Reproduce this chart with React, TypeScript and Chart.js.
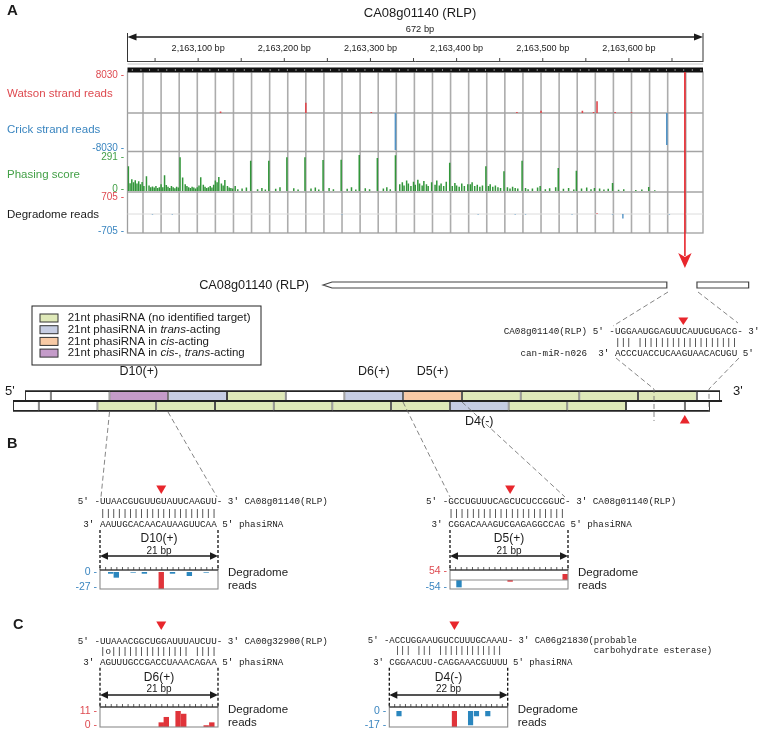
import { useEffect, useRef } from 'react';
import { Chart, registerables } from 'chart.js';

Chart.register(...registerables);

const W = 762;
const H = 733;
const SANS = "'Liberation Sans', Arial, Helvetica, sans-serif";
const MONO = "'Liberation Mono', 'Courier New', monospace";
Chart.defaults.font.family = SANS;

const INK = '#1b1b1b';
const TXT_RED = '#de4a50';
const TXT_BLUE = '#3b86c0';
const TXT_GREEN = '#43a047';
const WATSON_COLOR = '#e0474c';
const CRICK_COLOR = '#5293c6';
const PHASE_COLOR = '#32963a';
const CLEAVE_RED = '#e8262c';
const READ_RED = '#e0343a';
const READ_BLUE = '#2a86be';

/* ================= Panel A data ================= */
const regionTitle = 'CA08g01140 (RLP)';
const regionSizeLabel = '672 bp';
const regionStart = 2163018;
const regionLength = 668;
const rulerLabelTicks = [2163100, 2163200, 2163300, 2163400, 2163500, 2163600];
const rulerMinorTicks = [2163050, 2163100, 2163150, 2163200, 2163250, 2163300, 2163350, 2163400, 2163450, 2163500, 2163550, 2163600, 2163650];
const phaseLines = [18, 39, 60, 81, 102, 123, 144, 165, 186, 207, 228, 249, 270, 291, 312, 333, 354, 375, 396, 417, 438, 459, 480, 501, 522, 543, 564, 585, 606, 627, 648];
const cleavageBp = 647;

const strandReadMax = 8030;
const watsonSites = [108, 207, 283, 452, 480, 528, 541, 545, 566, 585];
const watsonReads = [320, 2180, 210, 210, 490, 490, 210, 2470, 210, 150];
const crickSites = [311, 626];
const crickReads = [-7820, -6760];

const phasingMax = 291;
const phasingScores: [number, number][] = [
  [1, 200], [3, 62], [5, 95], [7, 70], [9, 86], [11, 60], [13, 78], [15, 55], [17, 72], [19, 40],
  [22, 119], [25, 45], [27, 30], [29, 36], [31, 28], [33, 40], [35, 25], [37, 30], [39, 55], [41, 30],
  [43, 127], [45, 48], [47, 35], [49, 25], [51, 40], [53, 30], [55, 22], [57, 35], [59, 28], [61, 272],
  [64, 110], [67, 55], [69, 40], [71, 30], [73, 25], [75, 35], [77, 28], [79, 20], [81, 30], [83, 45],
  [85, 111], [88, 50], [90, 35], [92, 25], [94, 30], [96, 40], [98, 28], [100, 50], [102, 85], [104, 70],
  [106, 113], [109, 60], [111, 45], [113, 89], [116, 40], [118, 28], [120, 25], [122, 20], [125, 40], [128, 15],
  [133, 20], [138, 28], [143, 245], [151, 15], [156, 25], [160, 12], [164, 245], [172, 18], [177, 30], [185, 272],
  [193, 22], [198, 12], [206, 272], [213, 20], [218, 28], [222, 12], [227, 250], [234, 25], [239, 15], [248, 253],
  [255, 18], [260, 30], [265, 12], [269, 291], [276, 22], [281, 14], [290, 267], [297, 20], [301, 30], [305, 15],
  [311, 288], [316, 55], [319, 70], [321, 45], [324, 85], [326, 60], [329, 40], [332, 75], [334, 50], [337, 90],
  [339, 60], [342, 45], [344, 80], [347, 55], [349, 40], [353, 70], [357, 50], [359, 85], [362, 45], [364, 60],
  [367, 40], [370, 75], [374, 229], [377, 40], [380, 65], [382, 45], [385, 35], [388, 60], [391, 40], [395, 55],
  [398, 55], [400, 70], [403, 40], [406, 50], [409, 35], [412, 45], [416, 200], [419, 40], [421, 55], [424, 35],
  [427, 45], [430, 30], [433, 25], [437, 160], [441, 30], [444, 20], [447, 35], [450, 25], [453, 20], [458, 245],
  [462, 25], [465, 15], [470, 20], [476, 28], [479, 40], [485, 15], [490, 22], [497, 30], [500, 186], [506, 18],
  [512, 25], [518, 12], [521, 164], [527, 20], [533, 28], [538, 15], [542, 25], [548, 20], [553, 12], [558, 18],
  [563, 65], [570, 10], [576, 15], [590, 8], [597, 12], [605, 32], [612, 6],
];

const degradomeMax = 705;
const degradomeSites = [29, 52, 249, 407, 450, 462, 516, 545, 563, 575, 629];
const degradomeReads = [-18, -18, -18, -18, -18, -18, -18, 30, -18, -165, -18];

const geneName = 'CA08g01140 (RLP)';
const geneBody = [227, 626];
const geneDownstream = [661, 721];

/* ================= phasiRNA strand data ================= */
const typeColors: Record<string, string> = {
  untargeted: '#dfe9b9',
  trans: '#c6cde3',
  cis: '#f8caa5',
  cisTrans: '#c49bc9',
  none: '#ffffff',
};
const strandTopBoxes: [number, number][] = [
  [-9.2, 0], [0, 21], [21, 42], [42, 63], [63, 84], [84, 105], [105, 126],
  [126, 147], [147, 168], [168, 189], [189, 210], [210, 231], [231, 239.3],
];
const strandTopTypes = ['none', 'none', 'cisTrans', 'trans', 'untargeted', 'none', 'trans', 'cis', 'untargeted', 'untargeted', 'untargeted', 'untargeted', 'none'];
const strandBottomBoxes: [number, number][] = [
  [-13.5, -4.3], [-4.3, 16.7], [16.7, 37.7], [37.7, 58.7], [58.7, 79.7], [79.7, 100.7], [100.7, 121.7],
  [121.7, 142.7], [142.7, 163.7], [163.7, 184.7], [184.7, 205.7], [205.7, 226.7], [226.7, 235.7],
];
const strandBottomTypes = ['none', 'none', 'untargeted', 'untargeted', 'untargeted', 'untargeted', 'untargeted', 'untargeted', 'trans', 'untargeted', 'untargeted', 'none', 'none'];
const strandLabels = [
  { strand: 'top', box: 2, text: 'D10(+)' },
  { strand: 'top', box: 6, text: 'D6(+)' },
  { strand: 'top', box: 7, text: 'D5(+)' },
  { strand: 'bottom', box: 8, text: 'D4(-)' },
];
const strandCleavageNt = 226.7;

const legendRows: { type: string; parts: [string, boolean][] }[] = [
  { type: 'untargeted', parts: [['21nt phasiRNA (no identified target)', false]] },
  { type: 'trans', parts: [['21nt phasiRNA in ', false], ['trans', true], ['-acting', false]] },
  { type: 'cis', parts: [['21nt phasiRNA in ', false], ['cis', true], ['-acting', false]] },
  { type: 'cisTrans', parts: [['21nt phasiRNA in ', false], ['cis', true], ['-, ', false], ['trans', true], ['-acting', false]] },
];

const mirTarget = "CA08g01140(RLP) 5' -UGGAAUGGAGUUCAUUGUGACG- 3'";
const mirPairs = "                    ||| ||||||||||||||||||";
const mirGuide = "   can-miR-n026  3' ACCCUACCUCAAGUAACACUGU 5'";

/* ================= Panels B / C data ================= */
const d10Target = "5' -UUAACGUGUUGUAUUCAAGUU- 3' CA08g01140(RLP)";
const d10Pairs = "    |||||||||||||||||||||";
const d10Guide = " 3' AAUUGCACAACAUAAGUUCAA 5' phasiRNA";
const d10Sites = [1.9, 2.9, 5.9, 7.9, 10.9, 12.9, 15.9, 18.9];
const d10Reads = [-2.7, -9, -1, -2.7, -27, -2.7, -6.4, -1];
const d10Cleavage = 10.9;
const d10Range = [-27, 0];

const d5Target = "5' -GCCUGUUUCAGCUCUCCGGUC- 3' CA08g01140(RLP)";
const d5Pairs = "    |||||||||||||||||||||";
const d5Guide = " 3' CGGACAAAGUCGAGAGGCCAG 5' phasiRNA";
const d5Sites = [1.6, 10.7, 20.5];
const d5Reads = [-44, -10, 36];
const d5Cleavage = 10.7;
const d5Range = [-54, 54];

const d6Target = "5' -UUAAACGGCUGGAUUUAUCUU- 3' CA00g32900(RLP)";
const d6Pairs = "    |o|||||||||||||| ||||";
const d6Guide = " 3' AGUUUGCCGACCUAAACAGAA 5' phasiRNA";
const d6Sites = [10.9, 11.8, 13.9, 14.9, 18.9, 19.9];
const d6Reads = [3.2, 6.9, 11, 9.1, 1.2, 3.2];
const d6Cleavage = 10.9;
const d6Range = [0, 11];

const d4Target = "5' -ACCUGGAAUGUCCUUUGCAAAU- 3' CA06g21830(probable";
const d4Target2 = 'carbohydrate esterase)';
const d4Pairs = "     ||| ||| ||||||||||||";
const d4Guide = " 3' CGGAACUU-CAGGAAACGUUUU 5' phasiRNA";
const d4Sites = [1.8, 12.1, 15.1, 16.2, 18.3];
const d4Reads = [-5.6, -17, -15.2, -5.6, -5.6];
const d4Cleavage = 12.1;
const d4Range = [-17, 0];

/* ================= layout ================= */
const TRACK = { top: 72, bottom: 233, sep1: 151.5, sep2: 192 };
const WC_AREA: [number, number, number, number] = [127.5, 75, 703, 151];
const PH_AREA: [number, number, number, number] = [127.5, 155, 703, 191];
const DG_AREA: [number, number, number, number] = [127.5, 195, 703, 233];
const STRAND_AREA: [number, number, number, number] = [13, 391, 722, 411];

type Ctx = CanvasRenderingContext2D;

function text(ctx: Ctx, s: string, x: number, y: number, font: string, color: string, align: CanvasTextAlign = 'left') {
  ctx.save();
  ctx.font = font;
  ctx.fillStyle = color;
  ctx.textAlign = align;
  ctx.textBaseline = 'middle';
  ctx.fillText(s, x, y);
  ctx.restore();
}
function seg(ctx: Ctx, x1: number, y1: number, x2: number, y2: number, color: string, lw: number, dash?: number[]) {
  ctx.save();
  ctx.strokeStyle = color;
  ctx.lineWidth = lw;
  if (dash) ctx.setLineDash(dash);
  ctx.beginPath();
  ctx.moveTo(x1, y1);
  ctx.lineTo(x2, y2);
  ctx.stroke();
  ctx.restore();
}
function polyline(ctx: Ctx, pts: number[][], color: string, lw: number, dash?: number[]) {
  ctx.save();
  ctx.strokeStyle = color;
  ctx.lineWidth = lw;
  if (dash) ctx.setLineDash(dash);
  ctx.beginPath();
  pts.forEach((p, i) => (i ? ctx.lineTo(p[0], p[1]) : ctx.moveTo(p[0], p[1])));
  ctx.stroke();
  ctx.restore();
}
function fillPoly(ctx: Ctx, pts: number[][], fill: string, stroke?: string, lw = 1) {
  ctx.save();
  ctx.beginPath();
  pts.forEach((p, i) => (i ? ctx.lineTo(p[0], p[1]) : ctx.moveTo(p[0], p[1])));
  ctx.closePath();
  ctx.fillStyle = fill;
  ctx.fill();
  if (stroke) {
    ctx.strokeStyle = stroke;
    ctx.lineWidth = lw;
    ctx.stroke();
  }
  ctx.restore();
}
function dblArrow(ctx: Ctx, x1: number, x2: number, y: number, head: number, half: number, lw: number) {
  seg(ctx, x1 + head * 0.6, y, x2 - head * 0.6, y, INK, lw);
  fillPoly(ctx, [[x1, y], [x1 + head, y - half], [x1 + head, y + half]], INK);
  fillPoly(ctx, [[x2, y], [x2 - head, y - half], [x2 - head, y + half]], INK);
}
function triDown(ctx: Ctx, cx: number, tipY: number, w: number, h: number) {
  fillPoly(ctx, [[cx - w / 2, tipY - h], [cx + w / 2, tipY - h], [cx, tipY]], CLEAVE_RED);
}
function triUp(ctx: Ctx, cx: number, tipY: number, w: number, h: number) {
  fillPoly(ctx, [[cx - w / 2, tipY + h], [cx + w / 2, tipY + h], [cx, tipY]], CLEAVE_RED);
}

function padFor(a: [number, number, number, number]) {
  return { left: a[0], top: a[1], right: W - a[2], bottom: H - a[3] };
}
function baseOpts(area: [number, number, number, number], xMin: number, xMax: number, yMin: number, yMax: number): any {
  return {
    responsive: false,
    animation: false,
    devicePixelRatio: 1,
    events: [],
    layout: { padding: padFor(area) },
    plugins: { legend: { display: false }, tooltip: { enabled: false }, title: { display: false } },
    scales: {
      x: { type: 'linear', min: xMin, max: xMax, display: false, offset: false },
      y: { type: 'linear', min: yMin, max: yMax, display: false },
    },
  };
}
const pts = (xs: number[], ys: number[]) => xs.map((x, i) => ({ x, y: ys[i] }));

/* ================= plugins ================= */
const trackPlugin = {
  id: 'trackDecor',
  beforeDatasetsDraw(chart: any) {
    const ctx: Ctx = chart.ctx;
    const xs = chart.scales.x;
    const ys = chart.scales.y;
    const left = xs.getPixelForValue(0);
    const right = xs.getPixelForValue(regionLength);
    for (const p of phaseLines) {
      const x = xs.getPixelForValue(p);
      seg(ctx, x, TRACK.top, x, TRACK.bottom, '#acacac', 1.6);
    }
    ctx.save();
    ctx.strokeStyle = '#9e9e9e';
    ctx.lineWidth = 1.3;
    ctx.strokeRect(left, TRACK.top, right - left, TRACK.bottom - TRACK.top);
    ctx.restore();
    const zero = ys.getPixelForValue(0);
    seg(ctx, left, zero, right, zero, '#a4a4a4', 1.3);
    seg(ctx, left, TRACK.sep1, right, TRACK.sep1, '#a4a4a4', 1.3);
    seg(ctx, left, TRACK.sep2, right, TRACK.sep2, '#a4a4a4', 1.3);
  },
  afterDraw(chart: any) {
    const ctx: Ctx = chart.ctx;
    const xs = chart.scales.x;
    const ys = chart.scales.y;
    const left = xs.getPixelForValue(0);
    const right = xs.getPixelForValue(regionLength);
    text(ctx, 'A', 7, 11, `bold 15px ${SANS}`, INK);
    text(ctx, regionTitle, 420, 13.5, `13px ${SANS}`, INK, 'center');
    text(ctx, regionSizeLabel, 420, 29.5, `9.3px ${SANS}`, INK, 'center');
    dblArrow(ctx, left, right, 37, 9, 3.6, 1.3);
    seg(ctx, left, 33, left, 62, '#333', 1);
    seg(ctx, right, 33, right, 62, '#333', 1);
    seg(ctx, left, 61.5, right, 61.5, '#444', 1);
    seg(ctx, left, 64, right, 64, '#c4c4c4', 1);
    for (const t of rulerMinorTicks) {
      const x = xs.getPixelForValue(t - regionStart);
      seg(ctx, x, 58, x, 61.5, '#444', 1);
    }
    for (const t of rulerLabelTicks) {
      const x = xs.getPixelForValue(t - regionStart);
      text(ctx, `${t.toLocaleString('en-US')} bp`, x, 48, `9.1px ${SANS}`, '#222', 'center');
    }
    ctx.save();
    ctx.fillStyle = '#111';
    ctx.fillRect(left, 67.5, right - left, 4.8);
    ctx.fillStyle = '#ffffff';
    for (let b = 5; b < regionLength; b += 10) {
      ctx.fillRect(xs.getPixelForValue(b), 69.5, 1, 1);
    }
    ctx.restore();
    const top = ys.getPixelForValue(strandReadMax);
    const bot = ys.getPixelForValue(-strandReadMax);
    text(ctx, `${strandReadMax} -`, 124, top, `10px ${SANS}`, TXT_RED, 'right');
    text(ctx, 'Watson strand reads', 7, 94, `11.5px ${SANS}`, TXT_RED);
    text(ctx, 'Crick strand reads', 7, 129.5, `11.5px ${SANS}`, TXT_BLUE);
    text(ctx, `-${strandReadMax} -`, 124, bot - 2.5, `10px ${SANS}`, TXT_BLUE, 'right');
    text(ctx, geneName, 309, 285.5, `12.7px ${SANS}`, INK, 'right');
    const g0 = xs.getPixelForValue(geneBody[0]);
    const g1 = xs.getPixelForValue(geneBody[1]);
    fillPoly(ctx, [[g0, 285], [g0 + 9, 282], [g1, 282], [g1, 288], [g0 + 9, 288]], '#fff', '#444', 1.2);
    const d0 = xs.getPixelForValue(geneDownstream[0]);
    const d1 = xs.getPixelForValue(geneDownstream[1]);
    fillPoly(ctx, [[d0, 282], [d1, 282], [d1, 288], [d0, 288]], '#fff', '#444', 1.2);
  },
};

const phasingPlugin = {
  id: 'phasingDecor',
  afterDraw(chart: any) {
    const ctx: Ctx = chart.ctx;
    const ys = chart.scales.y;
    text(ctx, `${phasingMax} -`, 124, ys.getPixelForValue(phasingMax) + 2, `10px ${SANS}`, TXT_GREEN, 'right');
    text(ctx, 'Phasing score', 7, 175, `11.5px ${SANS}`, TXT_GREEN);
    text(ctx, '0 -', 124, ys.getPixelForValue(0) - 2, `10px ${SANS}`, TXT_GREEN, 'right');
  },
};

const degradomePlugin = {
  id: 'degradomeDecor',
  beforeDatasetsDraw(chart: any) {
    const ctx: Ctx = chart.ctx;
    const xs = chart.scales.x;
    const ys = chart.scales.y;
    const z = ys.getPixelForValue(0);
    seg(ctx, xs.getPixelForValue(0), z, xs.getPixelForValue(regionLength), z, '#dcdcdc', 1);
  },
  afterDraw(chart: any) {
    const ctx: Ctx = chart.ctx;
    const xs = chart.scales.x;
    const ys = chart.scales.y;
    text(ctx, `${degradomeMax} -`, 124, ys.getPixelForValue(degradomeMax) + 2, `10px ${SANS}`, TXT_RED, 'right');
    text(ctx, 'Degradome reads', 7, 214.5, `11.5px ${SANS}`, INK);
    text(ctx, `-${degradomeMax} -`, 124, ys.getPixelForValue(-degradomeMax) - 1.5, `10px ${SANS}`, TXT_BLUE, 'right');
    const x = xs.getPixelForValue(cleavageBp);
    seg(ctx, x, TRACK.top, x, 256, CLEAVE_RED, 1.6);
    fillPoly(ctx, [[x - 6.7, 253], [x, 257], [x + 6.7, 253], [x, 268]], CLEAVE_RED);
  },
};

const dashedGuides: number[][][] = [
  [[668, 292], [613, 326]],
  [[698, 292], [738, 323]],
  [[616, 358], [654, 389], [654, 421]],
  [[739, 358], [709, 389], [709, 412]],
  [[109.5, 412], [101, 497]],
  [[168, 412], [217, 497]],
  [[403, 402], [450, 497]],
  [[462, 402], [565, 497]],
];

const strandPlugin = {
  id: 'strandDecor',
  afterDatasetsDraw(chart: any) {
    const ctx: Ctx = chart.ctx;
    const xs = chart.scales.x;
    const ca = chart.chartArea;
    const mid = (ca.top + ca.bottom) / 2;
    const tx0 = xs.getPixelForValue(strandTopBoxes[0][0]);
    const tx1 = xs.getPixelForValue(strandTopBoxes[strandTopBoxes.length - 1][1]);
    const bx0 = xs.getPixelForValue(strandBottomBoxes[0][0]);
    const bx1 = xs.getPixelForValue(strandBottomBoxes[strandBottomBoxes.length - 1][1]);
    seg(ctx, tx0, ca.top, tx1, ca.top, '#222', 1.5);
    seg(ctx, bx0, mid, tx1 + 2, mid, '#222', 2.2);
    seg(ctx, bx0, ca.bottom, bx1, ca.bottom, '#222', 1.5);
    text(ctx, "5'", tx0 - 20, ca.top + 0.5, `13px ${SANS}`, INK);
    text(ctx, "3'", tx1 + 13, ca.top + 0.5, `13px ${SANS}`, INK);
    for (const l of strandLabels) {
      const box = l.strand === 'top' ? strandTopBoxes[l.box] : strandBottomBoxes[l.box];
      const cx = xs.getPixelForValue((box[0] + box[1]) / 2);
      const y = l.strand === 'top' ? ca.top - 19 : ca.bottom + 10.5;
      text(ctx, l.text, cx, y, `12.5px ${SANS}`, INK, 'center');
    }
    triUp(ctx, xs.getPixelForValue(strandCleavageNt), ca.bottom + 4, 10, 8.5);
  },
  afterDraw(chart: any) {
    const ctx: Ctx = chart.ctx;
    text(ctx, 'B', 7, 443.5, `bold 14.5px ${SANS}`, INK);
    text(ctx, 'C', 13, 624.5, `bold 14.5px ${SANS}`, INK);
    ctx.save();
    ctx.strokeStyle = '#222';
    ctx.lineWidth = 1;
    ctx.strokeRect(32, 306, 229, 59);
    ctx.restore();
    legendRows.forEach((row, i) => {
      const y = 318 + i * 11.7;
      ctx.save();
      ctx.fillStyle = typeColors[row.type];
      ctx.fillRect(40, y - 4, 18, 8);
      ctx.strokeStyle = '#333';
      ctx.lineWidth = 1;
      ctx.strokeRect(40, y - 4, 18, 8);
      ctx.restore();
      let x = 67.7;
      for (const [s, it] of row.parts) {
        const font = `${it ? 'italic ' : ''}11.5px ${SANS}`;
        text(ctx, s, x, y, font, INK);
        ctx.save();
        ctx.font = font;
        x += ctx.measureText(s).width;
        ctx.restore();
      }
    });
    for (const g of dashedGuides) polyline(ctx, g, '#666', 0.8, [5, 3]);
    const mono = `9.27px ${MONO}`;
    triDown(ctx, 683.3, 325, 10, 7.5);
    text(ctx, mirTarget, 503.7, 331.5, mono, INK);
    text(ctx, mirPairs, 503.7, 342.5, mono, INK);
    text(ctx, mirGuide, 503.7, 353.5, mono, INK);
  },
};

type MiniBlock = {
  name: string; span: number; target: string; target2?: string; pairs: string; guide: string;
  sites: number[]; reads: number[]; cleavage: number; range: number[];
  x0: number; font: number; y1: number; y2: number; y3: number; triTip: number;
  labelY: number; bpY: number; arrowY: number; boxTop: number; area: [number, number, number, number];
};

const miniBlocks: MiniBlock[] = [
  {
    name: 'D10(+)', span: 21, target: d10Target, pairs: d10Pairs, guide: d10Guide,
    sites: d10Sites, reads: d10Reads, cleavage: d10Cleavage, range: d10Range,
    x0: 77.7, font: 9.27, y1: 501.7, y2: 513.5, y3: 525, triTip: 494,
    labelY: 538.3, bpY: 551.5, arrowY: 556, boxTop: 570, area: [100, 572, 218, 589],
  },
  {
    name: 'D5(+)', span: 21, target: d5Target, pairs: d5Pairs, guide: d5Guide,
    sites: d5Sites, reads: d5Reads, cleavage: d5Cleavage, range: d5Range,
    x0: 426, font: 9.27, y1: 501.7, y2: 513.5, y3: 525, triTip: 494,
    labelY: 538.3, bpY: 551.5, arrowY: 556, boxTop: 570, area: [450, 571, 568, 589],
  },
  {
    name: 'D6(+)', span: 21, target: d6Target, pairs: d6Pairs, guide: d6Guide,
    sites: d6Sites, reads: d6Reads, cleavage: d6Cleavage, range: d6Range,
    x0: 77.7, font: 9.27, y1: 641.7, y2: 652, y3: 662.7, triTip: 630,
    labelY: 677.3, bpY: 689.7, arrowY: 695, boxTop: 707, area: [100, 711, 218, 727],
  },
  {
    name: 'D4(-)', span: 22, target: d4Target, target2: d4Target2, pairs: d4Pairs, guide: d4Guide,
    sites: d4Sites, reads: d4Reads, cleavage: d4Cleavage, range: d4Range,
    x0: 367.8, font: 8.97, y1: 640.5, y2: 651, y3: 662.7, triTip: 630,
    labelY: 677.3, bpY: 689.7, arrowY: 695, boxTop: 707, area: [389.3, 711, 507.7, 727],
  },
];

function miniPlugin(b: MiniBlock) {
  return {
    id: 'mini',
    afterDraw(chart: any) {
      const ctx: Ctx = chart.ctx;
      const xs = chart.scales.x;
      const ys = chart.scales.y;
      const ca = chart.chartArea;
      const L = xs.getPixelForValue(0);
      const R = xs.getPixelForValue(b.span);
      const mono = `${b.font}px ${MONO}`;
      text(ctx, b.target, b.x0, b.y1, mono, INK);
      text(ctx, b.pairs, b.x0, b.y2, mono, INK);
      text(ctx, b.guide, b.x0, b.y3, mono, INK);
      if (b.target2) {
        ctx.save();
        ctx.font = mono;
        const off = ctx.measureText(b.target.slice(0, 42)).width;
        ctx.restore();
        text(ctx, b.target2, b.x0 + off, b.y2, mono, INK);
      }
      triDown(ctx, xs.getPixelForValue(b.cleavage), b.triTip, 10, 8.5);
      seg(ctx, L, b.y3 + 5, L, b.boxTop, '#111', 1.3, [3, 2]);
      seg(ctx, R, b.y3 + 5, R, b.boxTop, '#111', 1.3, [3, 2]);
      text(ctx, b.name, (L + R) / 2, b.labelY, `12px ${SANS}`, INK, 'center');
      text(ctx, `${b.span} bp`, (L + R) / 2, b.bpY, `10px ${SANS}`, INK, 'center');
      dblArrow(ctx, L, R, b.arrowY, 8, 3.8, 1.4);
      ctx.save();
      ctx.strokeStyle = '#8c8c8c';
      ctx.lineWidth = 1.1;
      ctx.strokeRect(L, b.boxTop, R - L, ca.bottom - b.boxTop);
      ctx.restore();
      const [yMin, yMax] = b.range;
      if (yMin < 0 && yMax > 0) {
        const z = ys.getPixelForValue(0);
        seg(ctx, L, z, R, z, '#8c8c8c', 1);
      }
      seg(ctx, L, b.boxTop, R, b.boxTop, '#222', 1.1);
      for (let i = 0; i <= b.span; i++) {
        const x = xs.getPixelForValue(i);
        seg(ctx, x, b.boxTop - 3, x, b.boxTop, '#333', 0.8);
      }
      const topColor = yMax > 0 ? TXT_RED : yMin >= 0 ? TXT_RED : TXT_BLUE;
      const botColor = yMin < 0 ? TXT_BLUE : TXT_RED;
      text(ctx, `${yMax} -`, L - 3, ca.top + 0.5, `10.5px ${SANS}`, topColor, 'right');
      text(ctx, `${yMin} -`, L - 3, ca.bottom - 2, `10.5px ${SANS}`, botColor, 'right');
      text(ctx, 'Degradome', R + 10, b.boxTop + 2.5, `11.5px ${SANS}`, INK);
      text(ctx, 'reads', R + 10, b.boxTop + 15.5, `11.5px ${SANS}`, INK);
    },
  };
}

/* ================= configs ================= */
function watsonConfig(): any {
  return {
    type: 'bar',
    data: {
      datasets: [
        { data: pts(watsonSites, watsonReads), backgroundColor: WATSON_COLOR, barThickness: 1.6, grouped: false, inflateAmount: 0 },
        { data: pts(crickSites, crickReads), backgroundColor: CRICK_COLOR, barThickness: 1.6, grouped: false, inflateAmount: 0 },
      ],
    },
    options: baseOpts(WC_AREA, 0, regionLength, -strandReadMax, strandReadMax),
    plugins: [trackPlugin],
  };
}
function phasingConfig(): any {
  return {
    type: 'bar',
    data: {
      datasets: [
        {
          data: phasingScores.map(([x, y]) => ({ x, y })),
          backgroundColor: PHASE_COLOR,
          barThickness: 1.5,
          grouped: false,
          inflateAmount: 0,
        },
      ],
    },
    options: baseOpts(PH_AREA, 0, regionLength, 0, phasingMax),
    plugins: [phasingPlugin],
  };
}
function degradomeConfig(): any {
  return {
    type: 'bar',
    data: {
      datasets: [
        {
          data: pts(degradomeSites, degradomeReads),
          backgroundColor: degradomeReads.map((v) => (v > 0 ? WATSON_COLOR : CRICK_COLOR)),
          barThickness: 1.4,
          grouped: false,
          inflateAmount: 0,
        },
      ],
    },
    options: baseOpts(DG_AREA, 0, regionLength, -degradomeMax, degradomeMax),
    plugins: [degradomePlugin],
  };
}
function strandConfig(): any {
  const opts = baseOpts(STRAND_AREA, -13.5, 240, 0, 1);
  opts.indexAxis = 'y';
  opts.scales = {
    x: { type: 'linear', min: -13.5, max: 240, display: false, offset: false },
    y: { type: 'category', labels: ['top', 'bottom'], display: false, offset: true },
  };
  const common = {
    borderColor: '#333',
    borderWidth: 1,
    borderSkipped: false,
    grouped: false,
    categoryPercentage: 1,
    barPercentage: 1,
    inflateAmount: 0,
  };
  return {
    type: 'bar',
    data: {
      labels: ['top', 'bottom'],
      datasets: [
        { ...common, data: strandTopBoxes.map((b) => ({ x: b, y: 'top' })), backgroundColor: strandTopTypes.map((t) => typeColors[t]) },
        { ...common, data: strandBottomBoxes.map((b) => ({ x: b, y: 'bottom' })), backgroundColor: strandBottomTypes.map((t) => typeColors[t]) },
      ],
    },
    options: opts,
    plugins: [strandPlugin],
  };
}
function miniConfig(b: MiniBlock): any {
  const pxPerNt = (b.area[2] - b.area[0]) / b.span;
  return {
    type: 'bar',
    data: {
      datasets: [
        {
          data: pts(b.sites, b.reads),
          backgroundColor: b.sites.map((s, i) => (s === b.cleavage || b.reads[i] > 0 ? READ_RED : READ_BLUE)),
          barThickness: pxPerNt * 0.96,
          grouped: false,
          inflateAmount: 0,
        },
      ],
    },
    options: baseOpts(b.area, 0, b.span, b.range[0], b.range[1]),
    plugins: [miniPlugin(b)],
  };
}

const layers: (() => any)[] = [
  watsonConfig,
  phasingConfig,
  degradomeConfig,
  strandConfig,
  ...miniBlocks.map((b) => () => miniConfig(b)),
];

function ChartLayer({ make }: { make: () => any }) {
  const ref = useRef<HTMLCanvasElement | null>(null);
  useEffect(() => {
    if (!ref.current) return;
    const chart = new Chart(ref.current, make());
    return () => chart.destroy();
  }, [make]);
  return <canvas ref={ref} width={W} height={H} style={{ position: 'absolute', left: 0, top: 0, width: W, height: H }} />;
}

export default function App() {
  return (
    <div style={{ position: 'absolute', left: 0, top: 0, width: W, height: H, background: '#ffffff', overflow: 'hidden' }}>
      {layers.map((make, i) => (
        <ChartLayer key={i} make={make} />
      ))}
    </div>
  );
}
